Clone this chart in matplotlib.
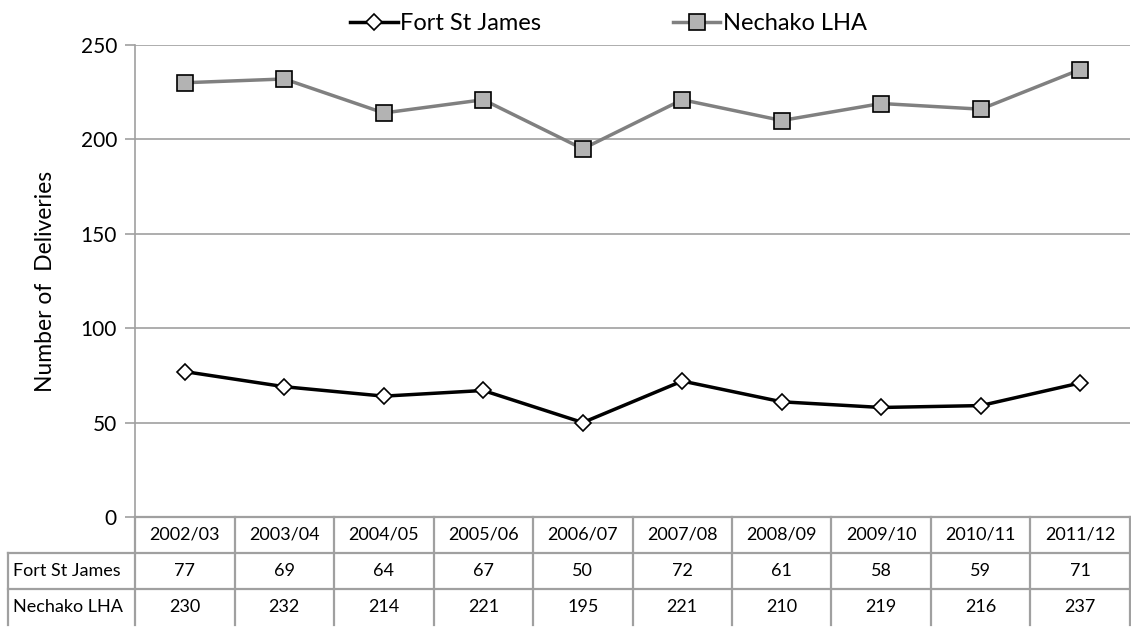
import matplotlib
matplotlib.use("Agg")
import matplotlib.pyplot as plt
import matplotlib.transforms as mtransforms

plt.rcParams['font.family'] = ['Lato', 'DejaVu Sans']

years = ['2002/03', '2003/04', '2004/05', '2005/06', '2006/07',
         '2007/08', '2008/09', '2009/10', '2010/11', '2011/12']
fort_st_james = [77, 69, 64, 67, 50, 72, 61, 58, 59, 71]
nechako_lha = [230, 232, 214, 221, 195, 221, 210, 219, 216, 237]
series_names = ['Fort St James', 'Nechako LHA']
y_ticks = [0, 50, 100, 150, 200, 250]

grid_col = '#a0a0a0'

fig = plt.figure(figsize=(11.31, 6.30), dpi=100)
ax = fig.add_axes([0.1194, 0.1794, 0.8797, 0.7492])

x = list(range(len(years)))
ax.plot(x, fort_st_james, color='black', lw=2.5, marker='D', ms=8.5,
        mfc='white', mec='black', mew=1.2, label=series_names[0], zorder=3)
ax.plot(x, nechako_lha, color='#808080', lw=2.5, marker='s', ms=12,
        mfc='#b3b3b3', mec='black', mew=1.2, label=series_names[1], zorder=3)

ax.set_xlim(-0.5, len(years) - 0.5)
ax.set_ylim(0, 250)
ax.set_yticks(y_ticks)
ax.yaxis.grid(True, color=grid_col, lw=1.2)
ax.set_axisbelow(True)
ax.set_xticks([])
ax.tick_params(axis='y', length=7, width=1.2, color=grid_col, labelsize=15, pad=6)
for s in ['top', 'right', 'bottom']:
    ax.spines[s].set_visible(False)
ax.spines['left'].set_color(grid_col)
ax.spines['left'].set_linewidth(1.2)
ax.set_ylabel('Number of  Deliveries', fontsize=16.5, labelpad=18)

# data table under the plot: x in data units, y in axes fraction
trans = mtransforms.blended_transform_factory(ax.transData, ax.transAxes)
row_h = 36 / 472
x_left = -0.5 - 127 / 99.5
x_right = len(years) - 0.5
line_kw = dict(color=grid_col, lw=1.6, transform=trans, clip_on=False)

for i, yr in enumerate(years):
    ax.text(i, -0.5 * row_h, yr, ha='center', va='center', fontsize=13,
            transform=trans, clip_on=False)
for r, (name, vals) in enumerate(zip(series_names, [fort_st_james, nechako_lha])):
    yc = -(r + 1.5) * row_h
    ax.text(x_left + 0.05, yc, name, ha='left', va='center', fontsize=13,
            transform=trans, clip_on=False)
    for i, v in enumerate(vals):
        ax.text(i, yc, str(v), ha='center', va='center', fontsize=13,
                transform=trans, clip_on=False)

ax.plot([-0.5, x_right], [0, 0], **line_kw)
for k in (1, 2):
    ax.plot([x_left, x_right], [-k * row_h, -k * row_h], **line_kw)
for i in range(len(years) + 1):
    ax.plot([i - 0.5, i - 0.5], [0, -3 * row_h], **line_kw)
ax.plot([x_left, x_left], [-row_h, -3 * row_h], **line_kw)

ax.legend(loc='center', bbox_to_anchor=(0.476, 1.046), ncol=2,
          frameon=False, fontsize=17, handlelength=2.0, columnspacing=5.6,
          handletextpad=0.1, borderaxespad=0)

fig.savefig('out.png', dpi=100)
